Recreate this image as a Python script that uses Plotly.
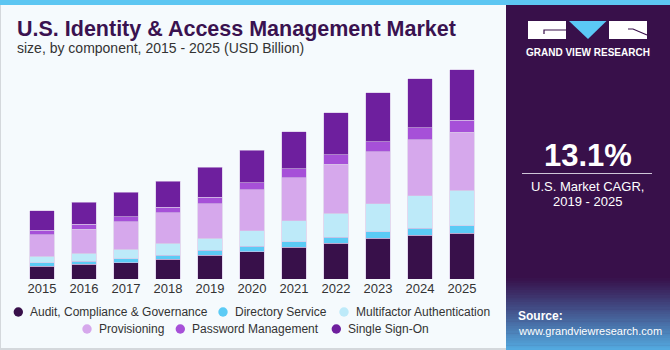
import plotly.graph_objects as go

# ---------------- data (USD Billion) ----------------
years = ["2015", "2016", "2017", "2018", "2019", "2020", "2021", "2022", "2023", "2024", "2025"]
audit = [0.41, 0.47, 0.52, 0.63, 0.76, 0.87, 1.01, 1.13, 1.30, 1.39, 1.45]
directory = [0.10, 0.10, 0.12, 0.13, 0.16, 0.17, 0.18, 0.20, 0.20, 0.22, 0.24]
mfa = [0.22, 0.25, 0.30, 0.38, 0.37, 0.49, 0.66, 0.75, 0.89, 1.03, 1.13]
provisioning = [0.67, 0.76, 0.87, 0.96, 1.10, 1.30, 1.37, 1.56, 1.65, 1.78, 1.84]
password = [0.14, 0.16, 0.16, 0.18, 0.20, 0.22, 0.28, 0.30, 0.32, 0.38, 0.38]
sso = [0.63, 0.69, 0.79, 0.83, 0.96, 1.04, 1.17, 1.34, 1.55, 1.55, 1.61]
series_names = ["Audit, Compliance & Governance", "Directory Service", "Multifactor Authentication",
                "Provisioning", "Password Management", "Single Sign-On"]
label_years = ["2015", "2016"]
label_texts = ["$2.2B", "$2.4B"]

colors = ["#38104A", "#5BCBF5", "#BDEAF9", "#D6A8EC", "#A650D8", "#6E1F9E"]
series = [audit, directory, mfa, provisioning, password, sso]

W, H = 670, 350
ML, MR, MT, MB = 21, 187, 60, 71
PW, PH = W - ML - MR, H - MT - MB
PB = H - MB


def px(x):
    return (x - ML) / PW


def py(y):
    return (PB - y) / PH


FONT = "Liberation Sans, Arial, sans-serif"
fig = go.Figure()

for name, vals, col in zip(series_names, series, colors):
    fig.add_trace(go.Bar(x=years, y=vals, name=name, marker=dict(color=col,
                         line=dict(color="rgba(215,195,230,0.75)", width=0.8)),
                         showlegend=False))

totals = [sum(s[i] for s in series) for i in range(len(years))]
annotations = []
for yr, txt in zip(label_years, label_texts):
    idx = years.index(yr)
    annotations.append(dict(x=yr, y=totals[idx], xref="x", yref="y", text=txt, showarrow=False,
                            yanchor="bottom", yshift=7, font=dict(family=FONT, size=15, color="#333333")))

# title & subtitle
annotations.append(dict(x=px(15), y=py(29), xref="paper", yref="paper", xanchor="left", yanchor="middle",
                        text="<b>U.S. Identity &amp; Access Management Market</b>", showarrow=False,
                        font=dict(family=FONT, size=21.5, color="#3A1250")))
annotations.append(dict(x=px(15), y=py(48), xref="paper", yref="paper", xanchor="left", yanchor="middle",
                        text="size, by component, 2015 - 2025 (USD Billion)", showarrow=False,
                        font=dict(family=FONT, size=14, color="#333333")))

# right panel texts
cx = 587.5
panel = [
    dict(x=px(cx), y=py(52), text="<b>GRAND VIEW RESEARCH</b>", font=dict(family=FONT, size=10, color="white")),
    dict(x=px(cx), y=py(155), text="<b>13.1%</b>", font=dict(family=FONT, size=31, color="white")),
    dict(x=px(cx), y=py(186), text="U.S. Market CAGR,", font=dict(family=FONT, size=13, color="white")),
    dict(x=px(cx), y=py(201), text="2019 - 2025", font=dict(family=FONT, size=13, color="white")),
    dict(x=px(516), y=py(316), text="<b>Source:</b>", xanchor="left", font=dict(family=FONT, size=12, color="white")),
    dict(x=px(516), y=py(331), text="www.grandviewresearch.com", xanchor="left", font=dict(family=FONT, size=11, color="white")),
]
for a in panel:
    a.setdefault("xanchor", "center")
    a.update(xref="paper", yref="paper", yanchor="middle", showarrow=False)
annotations += panel

shapes = []


def rect(x0, y0, x1, y1, color, layer="below"):
    shapes.append(dict(type="rect", xref="paper", yref="paper", x0=px(x0), x1=px(x1), y0=py(y1), y1=py(y0),
                       fillcolor=color, line=dict(width=0), layer=layer))


# legend (two centred rows): marker centre x, row y
legend_pos = [(18.3, 312), (223, 312), (344, 312), (87, 329), (180.3, 329), (336.3, 329)]
for name, col, (lx, ly) in zip(series_names, colors, legend_pos):
    r = 4.7
    shapes.append(dict(type="circle", xref="paper", yref="paper", x0=px(lx - r), x1=px(lx + r),
                       y0=py(ly + r), y1=py(ly - r), fillcolor=col, line=dict(width=0)))
    annotations.append(dict(x=px(lx + 9.5), y=py(ly), xref="paper", yref="paper", xanchor="left",
                            yanchor="middle", text=name.replace("&", "&amp;"), showarrow=False,
                            font=dict(family=FONT, size=12, color="#333333")))

# borders, top stripe
rect(0, 0, 670, 350, "#F5FAFD")
rect(0, 0, 1, 350, "#D4D8DC")
rect(0, 348, 670, 350, "#D4D8DC")
rect(0, 0, 670, 5, "#5DC6F2")
# panel
rect(506, 5, 670, 350, "#38104A")
n = 30
c0 = (56, 18, 76)
c1 = (84, 172, 226)
for k in range(n):
    t = (k + 0.5) / n
    col = "rgb(%d,%d,%d)" % tuple(int(c0[j] + (c1[j] - c0[j]) * t ** 1.1) for j in range(3))
    y0 = 278 + (350 - 278) * k / n
    y1 = 278 + (350 - 278) * (k + 1) / n + 0.5
    rect(506, y0, 670, y1, col)
# logo
rect(528, 21, 566, 39, "white")
rect(609, 21, 647, 39, "white")
shapes.append(dict(type="path", xref="paper", yref="paper",
                   path="M %f,%f L %f,%f L %f,%f Z" % (px(569), py(21), px(606.5), py(21), px(588), py(39)),
                   fillcolor="#5BC8F5", line=dict(width=0)))
shapes.append(dict(type="path", xref="paper", yref="paper",
                   path="M %f,%f L %f,%f L %f,%f" % (px(544), py(34), px(544), py(30), px(566), py(30)),
                   line=dict(color="#38104A", width=1.2)))
shapes.append(dict(type="path", xref="paper", yref="paper",
                   path="M %f,%f L %f,%f L %f,%f" % (px(628), py(29), px(633), py(29), px(647), py(35)),
                   line=dict(color="#38104A", width=1.2)))
# divider
shapes.append(dict(type="line", xref="paper", yref="paper", x0=px(522), x1=px(652), y0=py(173.5), y1=py(173.5),
                   line=dict(color="#CFC6D8", width=1)))

fig.update_layout(
    width=W, height=H, barmode="stack", bargap=0.42, showlegend=False,
    margin=dict(l=ML, r=MR, t=MT, b=MB, autoexpand=False),
    paper_bgcolor="#F5FAFD", plot_bgcolor="rgba(0,0,0,0)",
    xaxis=dict(type="category", range=[-0.5, 10.5], showgrid=False, zeroline=False, showline=False,
               ticks="", tickfont=dict(family=FONT, size=13, color="#333333"), fixedrange=True),
    yaxis=dict(range=[0, PH / 31.5], visible=False, fixedrange=True),
    annotations=annotations, shapes=shapes,
)

fig.write_html("out.html", config={"displayModeBar": False})
